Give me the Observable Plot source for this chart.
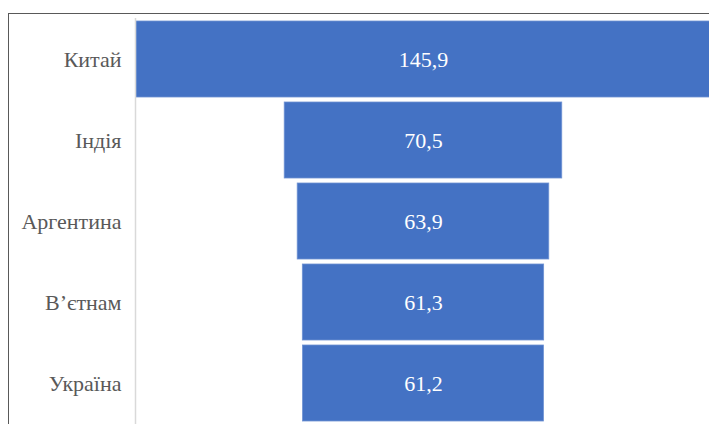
<!DOCTYPE html>
<html>
<head>
<meta charset="utf-8">
<script src="https://cdn.jsdelivr.net/npm/d3@7"></script>
<script src="https://cdn.jsdelivr.net/npm/@observablehq/plot@0.6"></script>
<style>
  html, body { margin: 0; padding: 0; background: #fff; }
  #wrap { position: relative; width: 709px; height: 424px; overflow: hidden; }
  #frame { position: absolute; left: 8px; top: 13px; width: 800px; height: 500px;
           border-left: 1.5px solid #595959; border-top: 1.5px solid #595959; pointer-events: none; }
  #wrap svg, #wrap svg text { font-family: "Times New Roman", "Liberation Serif", "DejaVu Serif", serif !important; }
</style>
</head>
<body>
<div id="wrap"><div id="frame"></div></div>
<script>
const countries = ["Китай", "Індія", "Аргентина", "В’єтнам", "Україна"];
const values = [145.9, 70.5, 63.9, 61.3, 61.2];

const data = countries.map((c, i) => ({country: c, value: values[i]}));
const half = d3.max(values) / 2;
const xDomain = [-half - 0.2, half - 0.3];
const fmt = v => String(v).replace(".", ",");
const serif = "'Times New Roman', 'Liberation Serif', 'DejaVu Serif', serif";

const chart = Plot.plot({
  width: 709,
  height: 424,
  marginLeft: 135,
  marginRight: 0,
  marginTop: 18,
  marginBottom: 0,
  style: {background: "transparent", fontFamily: serif, fontSize: "22px", overflow: "hidden"},
  x: {domain: xDomain, axis: null},
  y: {domain: countries, paddingInner: 0.065, paddingOuter: 0.03, label: null, tickSize: 0, tickPadding: 14},
  marks: [
    Plot.barX(data, {y: "country", x1: d => -d.value / 2, x2: d => d.value / 2, fill: "#4472C4", stroke: "#6f92d3", strokeWidth: 0.8}),
    Plot.ruleX([xDomain[0]], {stroke: "#d9d9d9", strokeWidth: 1.5}),
    Plot.text(data, {y: "country", x: 0, text: d => fmt(d.value), fill: "white", fontSize: 22, fontFamily: serif}),
    Plot.axisY({tickSize: 0, tickPadding: 14, fontSize: 22, fontFamily: serif, color: "#595959", label: null})
  ]
});
document.getElementById("wrap").insertBefore(chart, document.getElementById("frame"));
</script>
</body>
</html>
